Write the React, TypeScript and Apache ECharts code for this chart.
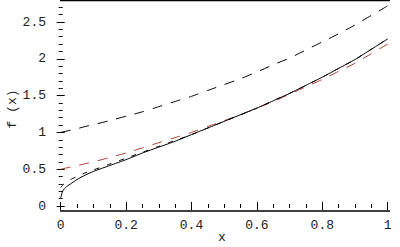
import React, { useEffect, useRef } from "react";
import * as echarts from "echarts";

const xValues = [0, 0.005, 0.01, 0.02, 0.03, 0.05, 0.075, 0.1, 0.15, 0.2, 0.25, 0.3, 0.35, 0.4, 0.45, 0.5, 0.55, 0.6, 0.65, 0.7, 0.75, 0.8, 0.85, 0.9, 0.95, 1];
const upperDashed = [1, 1.005, 1.01, 1.02, 1.03, 1.05, 1.08, 1.105, 1.16, 1.22, 1.28, 1.35, 1.42, 1.49, 1.57, 1.65, 1.73, 1.82, 1.92, 2.01, 2.12, 2.23, 2.34, 2.46, 2.59, 2.72];
const redDashed = [0.5, 0.505, 0.51, 0.52, 0.53, 0.55, 0.575, 0.6, 0.66, 0.72, 0.79, 0.86, 0.93, 1.0, 1.08, 1.16, 1.24, 1.33, 1.42, 1.52, 1.62, 1.72, 1.83, 1.94, 2.07, 2.2];
const solidBlack = [0.11, 0.19, 0.23, 0.27, 0.3, 0.36, 0.42, 0.47, 0.55, 0.63, 0.72, 0.8, 0.88, 0.97, 1.06, 1.15, 1.24, 1.33, 1.43, 1.53, 1.64, 1.75, 1.87, 1.99, 2.13, 2.27];
const thinDashed = [0.25, 0.28, 0.3, 0.33, 0.36, 0.4, 0.45, 0.49, 0.57, 0.65, 0.73, 0.81, 0.89, 0.97, 1.06, 1.15, 1.24, 1.33, 1.43, 1.53, 1.64, 1.75, 1.87, 1.99, 2.13, 2.27];

const xTickLabels = ["0", "0.2", "0.4", "0.6", "0.8", "1"];
const yTickLabels = ["0", "0.5", "1", "1.5", "2", "2.5"];

// plot frame extent in data units (x from -0.025 to 1.028, y from -0.068 to 2.785)
const frameX = [-0.025, 1.027];
const frameY = [-0.068, 2.79];

const FONT = "'Liberation Mono', 'DejaVu Sans Mono', monospace";
const TEXT = "#222";

function pairs(ys: number[]) {
  return xValues.map((x, i) => [x, ys[i]]);
}

export default function App() {
  const ref = useRef<HTMLDivElement>(null);
  useEffect(() => {
    if (!ref.current) return;
    const chart = echarts.init(ref.current, undefined, { renderer: "svg" });
    const hidden = { show: false };
    const tick = (len: number) => ({ show: true, inside: true, length: len, lineStyle: { color: "#000", width: 1 } });
    const left = 60.7;
    const right = 12.3;
    const xFmt = (v: number) => {
      const i = Math.round(v / 0.2);
      return Math.abs(v - i * 0.2) < 1e-6 ? xTickLabels[i] : "";
    };
    const yFmt = (v: number) => {
      const i = Math.round(v / 0.5);
      return Math.abs(v - i * 0.5) < 1e-6 ? yTickLabels[i] : "";
    };
    const frameData = [
      [frameX[0], frameY[0]],
      [frameX[1], frameY[0]],
      [frameX[1], frameY[1]],
      [frameX[0], frameY[1]],
      [frameX[0], frameY[0]],
    ];
    const option: any = {
      animation: false,
      backgroundColor: "#fff",
      grid: [
        { left, right, top: 22, bottom: 41 },
        { left, right, top: 7.3, bottom: 41 },
      ],
      xAxis: [
        { type: "value", gridIndex: 0, position: "bottom", offset: 6, min: 0, max: 1, interval: 0.2, axisLine: hidden, splitLine: hidden, axisTick: tick(4), axisLabel: { show: true, margin: 7, color: TEXT, fontFamily: FONT, fontSize: 13, formatter: xFmt } },
        { type: "value", gridIndex: 0, position: "top", offset: 21, min: 0, max: 1, interval: 0.2, axisLine: hidden, splitLine: hidden, axisTick: tick(4), axisLabel: hidden },
        { type: "value", gridIndex: 1, position: "bottom", offset: 6, min: 0, max: 1, interval: 0.05, axisLine: hidden, splitLine: hidden, axisTick: tick(2), axisLabel: hidden },
        { type: "value", gridIndex: 1, position: "top", offset: 6.3, min: 0, max: 1, interval: 0.05, axisLine: hidden, splitLine: hidden, axisTick: tick(2), axisLabel: hidden },
      ],
      yAxis: [
        { type: "value", gridIndex: 0, position: "left", offset: 8.7, min: 0, max: 2.5, interval: 0.5, axisLine: hidden, splitLine: hidden, axisTick: tick(4), axisLabel: { show: true, margin: 6, color: TEXT, fontFamily: FONT, fontSize: 13, formatter: yFmt } },
        { type: "value", gridIndex: 0, position: "right", offset: 7.8, min: 0, max: 2.5, interval: 0.5, axisLine: hidden, splitLine: hidden, axisTick: tick(4), axisLabel: hidden },
        { type: "value", gridIndex: 1, position: "left", offset: 8.7, min: 0, max: 2.7, interval: 0.1, axisLine: hidden, splitLine: hidden, axisTick: tick(2), axisLabel: hidden },
        { type: "value", gridIndex: 1, position: "right", offset: 7.8, min: 0, max: 2.7, interval: 0.1, axisLine: hidden, splitLine: hidden, axisTick: tick(2), axisLabel: hidden },
      ],
      graphic: {
        elements: [
          { type: "text", x: 222, y: 237, style: { text: "x", font: `13px ${FONT}`, fill: TEXT, align: "center", verticalAlign: "middle" } },
          { type: "text", x: 12.5, y: 109, rotation: Math.PI / 2, style: { text: "f (x)", font: `13px ${FONT}`, fill: TEXT, align: "center", verticalAlign: "middle" } },
        ],
      },
      series: [
        { type: "line", xAxisIndex: 0, yAxisIndex: 0, data: frameData, showSymbol: false, clip: false, silent: true, z: 5, lineStyle: { color: "#000", width: 1.3 } },
        { type: "line", xAxisIndex: 0, yAxisIndex: 0, data: pairs(upperDashed), showSymbol: false, clip: false, smooth: 0.2, lineStyle: { color: "#000", width: 1, type: [10, 9] } },
        { type: "line", xAxisIndex: 0, yAxisIndex: 0, data: pairs(redDashed), showSymbol: false, clip: false, smooth: 0.2, lineStyle: { color: "#b03a2e", width: 1, type: [10, 9] } },
        { type: "line", xAxisIndex: 0, yAxisIndex: 0, data: pairs(thinDashed), showSymbol: false, clip: false, smooth: 0.2, lineStyle: { color: "#000", width: 1, type: [5, 8] } },
        { type: "line", xAxisIndex: 0, yAxisIndex: 0, data: pairs(solidBlack), showSymbol: false, clip: false, smooth: 0.2, lineStyle: { color: "#000", width: 1, type: "solid" } },
      ],
    };
    chart.setOption(option);
    return () => chart.dispose();
  }, []);
  return <div ref={ref} style={{ position: "fixed", left: 0, top: 0, width: 400, height: 247 }} />;
}
